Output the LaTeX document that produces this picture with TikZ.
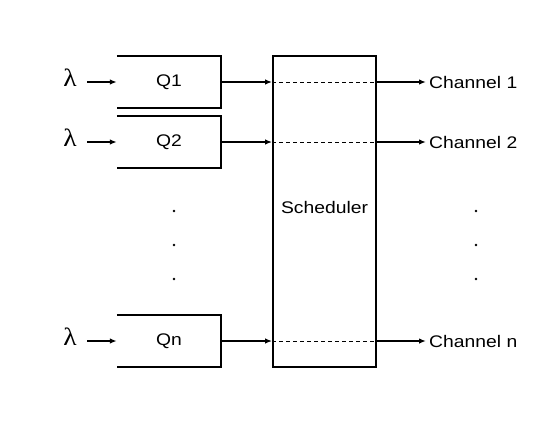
\documentclass[tikz,border=0pt]{standalone}
\usepackage{fontspec}
\setmainfont{Liberation Sans}[FakeStretch=1.15]
\newfontfamily\lamfont{Liberation Serif}[FakeStretch=1.1]
\usetikzlibrary{arrows.meta}
\begin{document}
\begin{tikzpicture}[x=1pt,y=-1pt,
  lbl/.style={inner sep=0pt,font=\fontsize{16.8}{18}\selectfont},
  lam/.style={inner sep=0pt,font=\lamfont\fontsize{25}{26}\selectfont},
  qbox/.style={minimum width=104pt,minimum height=52pt,inner sep=0pt,font=\fontsize{16.8}{18}\selectfont},
  qline/.style={line width=1.8pt},
  arr/.style={line width=1.5pt,-{Latex[length=7pt,width=5.5pt]}},
  dashln/.style={line width=0.9pt,dash pattern=on 4pt off 3pt},
  dotn/.style={circle,fill,inner sep=0pt,minimum size=2.8pt}]
\useasboundingbox (0,0) rectangle (554,424);
% queues
\node[qbox] (q1) at (169,82) {Q1};
\node[qbox] (q2) at (169,142) {Q2};
\node[qbox] (qn) at (169,341) {Qn};
\foreach \q in {q1,q2,qn}{
  \draw[qline] (\q.north west) -- (\q.north east) -- (\q.south east) -- (\q.south west);
}
% scheduler
\node[draw,line width=1.8pt,minimum width=103pt,minimum height=311pt,inner sep=0pt] (s) at (324.5,211.5) {};
\node[lbl] (st) at (324.5,207) {Scheduler};
% lambdas
\node[lam] (l1) at (70,78) {λ};
\node[lam] (l2) at (70,138) {λ};
\node[lam] (ln) at (70,337) {λ};
\coordinate (a1) at (87,82);
\coordinate (a2) at (87,142);
\coordinate (an) at (87,341);
\draw[arr] (a1) -- (q1.west);
\draw[arr] (a2) -- (q2.west);
\draw[arr] (an) -- (qn.west);
% into scheduler
\coordinate (s1) at (s.west |- q1.east);
\coordinate (s2) at (s.west |- q2.east);
\coordinate (sn) at (s.west |- qn.east);
\coordinate (e1) at (s.east |- q1.east);
\coordinate (e2) at (s.east |- q2.east);
\coordinate (en) at (s.east |- qn.east);
\draw[arr] (q1.east) -- (s1);
\draw[arr] (q2.east) -- (s2);
\draw[arr] (qn.east) -- (sn);
\draw[dashln] (s1) -- (e1);
\draw[dashln] (s2) -- (e2);
\draw[dashln] (sn) -- (en);
% channels
\node[lbl,anchor=west] (c1) at (429,82) {Channel 1};
\node[lbl,anchor=west] (c2) at (429,142) {Channel 2};
\node[lbl,anchor=west] (cn) at (429,341) {Channel n};
\draw[arr] (e1) -- ([xshift=-3pt]c1.west);
\draw[arr] (e2) -- ([xshift=-3pt]c2.west);
\draw[arr] (en) -- ([xshift=-3pt]cn.west);
% dots
\node[dotn] (d1) at (174,211) {};
\node[dotn] (d2) at (174,245) {};
\node[dotn] (d3) at (174,279) {};
\node[dotn] (d4) at (476,211) {};
\node[dotn] (d5) at (476,245) {};
\node[dotn] (d6) at (476,279) {};
\end{tikzpicture}
\end{document}
